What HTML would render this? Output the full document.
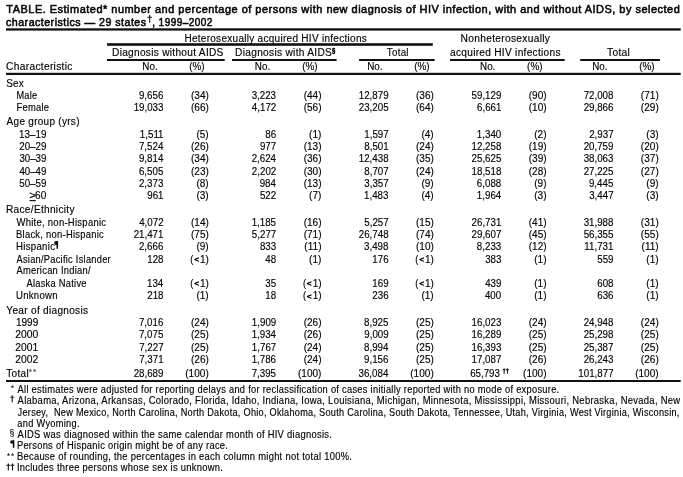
<!DOCTYPE html>
<html><head><meta charset="utf-8"><style>
html,body{margin:0;padding:0;background:#fff;width:683px;height:477px;overflow:hidden}
svg{display:block;will-change:transform}
text{font-family:"Liberation Sans",sans-serif;fill:#111;white-space:pre;stroke:#000;stroke-width:0.15px}
.b{font-weight:normal;stroke-width:0.55px}
rect,path{fill:#111}
</style></head><body>
<svg width="683" height="477" viewBox="0 0 683 477">
<rect x="6.0" y="28.3" width="674.70" height="2.30"/>
<rect x="107.0" y="43.2" width="325.80" height="2.60"/>
<rect x="107.0" y="59.0" width="117.70" height="2.00"/>
<rect x="232.0" y="59.0" width="104.60" height="2.00"/>
<rect x="359.1" y="59.0" width="75.60" height="2.00"/>
<rect x="450.0" y="59.0" width="114.70" height="2.00"/>
<rect x="580.2" y="59.0" width="79.80" height="2.00"/>
<rect x="6.0" y="72.8" width="674.70" height="2.20"/>
<rect x="6.0" y="380.0" width="674.70" height="2.00"/>
<rect x="29.6" y="200.0" width="6.20" height="1.20"/>
<path d="M54.2 243 A1.9 1.9 0 0 1 56.1 241.1 H58.1 V248.8 H56.5 V244.9 H56.1 A1.9 1.9 0 0 1 54.2 243 Z"/>
<path d="M10.1 442 A1.9 1.9 0 0 1 12 440.2 H14.4 V447.8 H12.8 V443.8 H12 A1.9 1.9 0 0 1 10.1 442 Z"/>
<path d="M149.15 15.10 H150.25 V16.73 H151.90 V17.63 H150.25 V22.80 H149.15 V17.63 H147.50 V16.73 H149.15 Z"/>
<path d="M11.65 395.30 H12.75 V396.71 H14.40 V397.61 H12.75 V402.20 H11.65 V397.61 H10.00 V396.71 H11.65 Z"/>
<path d="M503.65 368.30 H504.65 V369.34 H505.60 V370.24 H504.65 V373.80 H503.65 V370.24 H502.70 V369.34 H503.65 Z"/>
<path d="M506.95 368.30 H507.95 V369.34 H508.90 V370.24 H507.95 V373.80 H506.95 V370.24 H506.00 V369.34 H506.95 Z"/>
<path d="M7.75 463.40 H8.85 V464.87 H10.20 V465.77 H8.85 V470.50 H7.75 V465.77 H6.40 V464.87 H7.75 Z"/>
<path d="M11.95 463.40 H13.05 V464.87 H14.40 V465.77 H13.05 V470.50 H11.95 V465.77 H10.60 V464.87 H11.95 Z"/>
<polygon points="30.40,368.75 30.91,369.79 32.06,369.96 31.23,370.77 31.43,371.92 30.40,371.38 29.37,371.92 29.57,370.77 28.74,369.96 29.89,369.79" style="fill:#555"/>
<polygon points="34.55,368.75 35.06,369.79 36.21,369.96 35.38,370.77 35.58,371.92 34.55,371.38 33.52,371.92 33.72,370.77 32.89,369.96 34.04,369.79" style="fill:#555"/>
<polygon points="12.40,384.85 12.91,385.89 14.06,386.06 13.23,386.87 13.43,388.02 12.40,387.48 11.37,388.02 11.57,386.87 10.74,386.06 11.89,385.89" style="fill:#222"/>
<polygon points="8.50,452.85 9.01,453.89 10.16,454.06 9.33,454.87 9.53,456.02 8.50,455.48 7.47,456.02 7.67,454.87 6.84,454.06 7.99,453.89" style="fill:#222"/>
<polygon points="12.55,452.85 13.06,453.89 14.21,454.06 13.38,454.87 13.58,456.02 12.55,455.48 11.52,456.02 11.72,454.87 10.89,454.06 12.04,453.89" style="fill:#222"/>
<text x="6.30" y="13.00" transform="translate(6.30 0) scale(0.9816 1) translate(-6.30 0)" style="font-size:11.2px;letter-spacing:0.5px;fill:#111" class="b">TABLE. Estimated* number and percentage of persons with new diagnosis of HIV infection, with and without AIDS, by selected</text>
<text x="6.06" y="25.90" transform="translate(6.06 0) scale(0.9510 1) translate(-6.06 0)" style="font-size:11.2px;letter-spacing:0.5px;fill:#111" class="b">characteristics — 29 states</text>
<text x="152.15" y="25.90" transform="translate(152.15 0) scale(0.8962 1) translate(-152.15 0)" style="font-size:11.2px;letter-spacing:0.5px;fill:#111" class="b">, 1999–2002</text>
<text x="184.39" y="41.80" transform="translate(184.39 0) scale(0.9458 1) translate(-184.39 0)" style="font-size:10.6px;letter-spacing:0.3px;fill:#000">Heterosexually acquired HIV infections</text>
<text x="460.57" y="41.90" transform="translate(460.57 0) scale(0.9668 1) translate(-460.57 0)" style="font-size:10.6px;letter-spacing:0.3px;fill:#000">Nonheterosexually</text>
<text x="112.08" y="55.80" transform="translate(112.08 0) scale(0.9562 1) translate(-112.08 0)" style="font-size:10.6px;letter-spacing:0.3px;fill:#000">Diagnosis without AIDS</text>
<text x="235.08" y="55.90" transform="translate(235.08 0) scale(0.9618 1) translate(-235.08 0)" style="font-size:10.6px;letter-spacing:0.3px;fill:#000">Diagnosis with AIDS</text>
<text x="332.10" y="53.50" transform="translate(332.10 0) scale(0.8000 1) translate(-332.10 0)" style="font-size:7.6px;letter-spacing:0px;fill:#000" class="b">§</text>
<text x="386.77" y="55.80" transform="translate(386.77 0) scale(0.9231 1) translate(-386.77 0)" style="font-size:10.6px;letter-spacing:0.3px;fill:#000">Total</text>
<text x="450.02" y="55.80" transform="translate(450.02 0) scale(0.9569 1) translate(-450.02 0)" style="font-size:10.6px;letter-spacing:0.3px;fill:#000">acquired HIV infections</text>
<text x="606.96" y="55.80" transform="translate(606.96 0) scale(0.9714 1) translate(-606.96 0)" style="font-size:10.6px;letter-spacing:0.3px;fill:#000">Total</text>
<text x="6.12" y="69.70" transform="translate(6.12 0) scale(0.9647 1) translate(-6.12 0)" style="font-size:10.6px;letter-spacing:0.3px;fill:#000">Characteristic</text>
<text x="142.33" y="69.80" transform="translate(142.33 0) scale(0.9300 1) translate(-142.33 0)" style="font-size:10.6px;letter-spacing:0px;fill:#000">No.</text>
<text x="254.83" y="69.80" transform="translate(254.83 0) scale(0.9300 1) translate(-254.83 0)" style="font-size:10.6px;letter-spacing:0px;fill:#000">No.</text>
<text x="367.23" y="69.80" transform="translate(367.23 0) scale(0.9300 1) translate(-367.23 0)" style="font-size:10.6px;letter-spacing:0px;fill:#000">No.</text>
<text x="480.03" y="69.80" transform="translate(480.03 0) scale(0.9300 1) translate(-480.03 0)" style="font-size:10.6px;letter-spacing:0px;fill:#000">No.</text>
<text x="592.23" y="69.80" transform="translate(592.23 0) scale(0.9300 1) translate(-592.23 0)" style="font-size:10.6px;letter-spacing:0px;fill:#000">No.</text>
<text x="189.33" y="69.80" transform="translate(189.33 0) scale(0.9300 1) translate(-189.33 0)" style="font-size:10.6px;letter-spacing:0px;fill:#000">(%)</text>
<text x="302.23" y="69.80" transform="translate(302.23 0) scale(0.9300 1) translate(-302.23 0)" style="font-size:10.6px;letter-spacing:0px;fill:#000">(%)</text>
<text x="414.23" y="69.80" transform="translate(414.23 0) scale(0.9300 1) translate(-414.23 0)" style="font-size:10.6px;letter-spacing:0px;fill:#000">(%)</text>
<text x="527.13" y="69.80" transform="translate(527.13 0) scale(0.9300 1) translate(-527.13 0)" style="font-size:10.6px;letter-spacing:0px;fill:#000">(%)</text>
<text x="639.33" y="69.80" transform="translate(639.33 0) scale(0.9300 1) translate(-639.33 0)" style="font-size:10.6px;letter-spacing:0px;fill:#000">(%)</text>
<text x="6.13" y="86.80" transform="translate(6.13 0) scale(0.9370 1) translate(-6.13 0)" style="font-size:10.6px;letter-spacing:0.3px;fill:#000">Sex</text>
<text x="16.45" y="98.80" transform="translate(16.45 0) scale(0.8703 1) translate(-16.45 0)" style="font-size:10.6px;letter-spacing:0.3px;fill:#000">Male</text>
<text x="138.95" y="98.80" transform="translate(138.95 0) scale(0.9200 1) translate(-138.95 0)" style="font-size:10.6px;letter-spacing:0px;fill:#000">9,656</text>
<text x="190.96" y="98.80" transform="translate(190.96 0) scale(0.9500 1) translate(-190.96 0)" style="font-size:10.6px;letter-spacing:0px;fill:#000">(34)</text>
<text x="251.65" y="98.80" transform="translate(251.65 0) scale(0.9200 1) translate(-251.65 0)" style="font-size:10.6px;letter-spacing:0px;fill:#000">3,223</text>
<text x="303.66" y="98.80" transform="translate(303.66 0) scale(0.9500 1) translate(-303.66 0)" style="font-size:10.6px;letter-spacing:0px;fill:#000">(44)</text>
<text x="358.76" y="98.80" transform="translate(358.76 0) scale(0.9200 1) translate(-358.76 0)" style="font-size:10.6px;letter-spacing:0px;fill:#000">12,879</text>
<text x="415.96" y="98.80" transform="translate(415.96 0) scale(0.9500 1) translate(-415.96 0)" style="font-size:10.6px;letter-spacing:0px;fill:#000">(36)</text>
<text x="471.56" y="98.80" transform="translate(471.56 0) scale(0.9200 1) translate(-471.56 0)" style="font-size:10.6px;letter-spacing:0px;fill:#000">59,129</text>
<text x="528.76" y="98.80" transform="translate(528.76 0) scale(0.9500 1) translate(-528.76 0)" style="font-size:10.6px;letter-spacing:0px;fill:#000">(90)</text>
<text x="583.66" y="98.80" transform="translate(583.66 0) scale(0.9200 1) translate(-583.66 0)" style="font-size:10.6px;letter-spacing:0px;fill:#000">72,008</text>
<text x="640.86" y="98.80" transform="translate(640.86 0) scale(0.9500 1) translate(-640.86 0)" style="font-size:10.6px;letter-spacing:0px;fill:#000">(71)</text>
<text x="16.43" y="110.80" transform="translate(16.43 0) scale(0.8867 1) translate(-16.43 0)" style="font-size:10.6px;letter-spacing:0.3px;fill:#000">Female</text>
<text x="133.66" y="110.80" transform="translate(133.66 0) scale(0.9200 1) translate(-133.66 0)" style="font-size:10.6px;letter-spacing:0px;fill:#000">19,033</text>
<text x="190.96" y="110.80" transform="translate(190.96 0) scale(0.9500 1) translate(-190.96 0)" style="font-size:10.6px;letter-spacing:0px;fill:#000">(66)</text>
<text x="251.88" y="110.80" transform="translate(251.88 0) scale(0.9200 1) translate(-251.88 0)" style="font-size:10.6px;letter-spacing:0px;fill:#000">4,172</text>
<text x="303.66" y="110.80" transform="translate(303.66 0) scale(0.9500 1) translate(-303.66 0)" style="font-size:10.6px;letter-spacing:0px;fill:#000">(56)</text>
<text x="358.76" y="110.80" transform="translate(358.76 0) scale(0.9200 1) translate(-358.76 0)" style="font-size:10.6px;letter-spacing:0px;fill:#000">23,205</text>
<text x="415.96" y="110.80" transform="translate(415.96 0) scale(0.9500 1) translate(-415.96 0)" style="font-size:10.6px;letter-spacing:0px;fill:#000">(64)</text>
<text x="477.08" y="110.80" transform="translate(477.08 0) scale(0.9200 1) translate(-477.08 0)" style="font-size:10.6px;letter-spacing:0px;fill:#000">6,661</text>
<text x="528.76" y="110.80" transform="translate(528.76 0) scale(0.9500 1) translate(-528.76 0)" style="font-size:10.6px;letter-spacing:0px;fill:#000">(10)</text>
<text x="583.66" y="110.80" transform="translate(583.66 0) scale(0.9200 1) translate(-583.66 0)" style="font-size:10.6px;letter-spacing:0px;fill:#000">29,866</text>
<text x="640.86" y="110.80" transform="translate(640.86 0) scale(0.9500 1) translate(-640.86 0)" style="font-size:10.6px;letter-spacing:0px;fill:#000">(29)</text>
<text x="6.60" y="124.60" transform="translate(6.60 0) scale(0.9446 1) translate(-6.60 0)" style="font-size:10.6px;letter-spacing:0.3px;fill:#000">Age group (yrs)</text>
<text x="19.00" y="137.80" transform="translate(19.00 0) scale(0.9310 1) translate(-19.00 0)" style="font-size:10.6px;letter-spacing:0px;fill:#000">13–19</text>
<text x="139.87" y="137.80" transform="translate(139.87 0) scale(0.9200 1) translate(-139.87 0)" style="font-size:10.6px;letter-spacing:0px;fill:#000">1,511</text>
<text x="196.43" y="137.80" transform="translate(196.43 0) scale(0.9500 1) translate(-196.43 0)" style="font-size:10.6px;letter-spacing:0px;fill:#000">(5)</text>
<text x="265.22" y="137.80" transform="translate(265.22 0) scale(0.9200 1) translate(-265.22 0)" style="font-size:10.6px;letter-spacing:0px;fill:#000">86</text>
<text x="309.12" y="137.80" transform="translate(309.12 0) scale(0.9500 1) translate(-309.12 0)" style="font-size:10.6px;letter-spacing:0px;fill:#000">(1)</text>
<text x="364.28" y="137.80" transform="translate(364.28 0) scale(0.9200 1) translate(-364.28 0)" style="font-size:10.6px;letter-spacing:0px;fill:#000">1,597</text>
<text x="421.43" y="137.80" transform="translate(421.43 0) scale(0.9500 1) translate(-421.43 0)" style="font-size:10.6px;letter-spacing:0px;fill:#000">(4)</text>
<text x="476.85" y="137.80" transform="translate(476.85 0) scale(0.9200 1) translate(-476.85 0)" style="font-size:10.6px;letter-spacing:0px;fill:#000">1,340</text>
<text x="534.23" y="137.80" transform="translate(534.23 0) scale(0.9500 1) translate(-534.23 0)" style="font-size:10.6px;letter-spacing:0px;fill:#000">(2)</text>
<text x="589.18" y="137.80" transform="translate(589.18 0) scale(0.9200 1) translate(-589.18 0)" style="font-size:10.6px;letter-spacing:0px;fill:#000">2,937</text>
<text x="646.33" y="137.80" transform="translate(646.33 0) scale(0.9500 1) translate(-646.33 0)" style="font-size:10.6px;letter-spacing:0px;fill:#000">(3)</text>
<text x="19.24" y="149.80" transform="translate(19.24 0) scale(0.9228 1) translate(-19.24 0)" style="font-size:10.6px;letter-spacing:0px;fill:#000">20–29</text>
<text x="138.95" y="149.80" transform="translate(138.95 0) scale(0.9200 1) translate(-138.95 0)" style="font-size:10.6px;letter-spacing:0px;fill:#000">7,524</text>
<text x="190.96" y="149.80" transform="translate(190.96 0) scale(0.9500 1) translate(-190.96 0)" style="font-size:10.6px;letter-spacing:0px;fill:#000">(26)</text>
<text x="259.93" y="149.80" transform="translate(259.93 0) scale(0.9200 1) translate(-259.93 0)" style="font-size:10.6px;letter-spacing:0px;fill:#000">977</text>
<text x="303.66" y="149.80" transform="translate(303.66 0) scale(0.9500 1) translate(-303.66 0)" style="font-size:10.6px;letter-spacing:0px;fill:#000">(13)</text>
<text x="364.28" y="149.80" transform="translate(364.28 0) scale(0.9200 1) translate(-364.28 0)" style="font-size:10.6px;letter-spacing:0px;fill:#000">8,501</text>
<text x="415.96" y="149.80" transform="translate(415.96 0) scale(0.9500 1) translate(-415.96 0)" style="font-size:10.6px;letter-spacing:0px;fill:#000">(24)</text>
<text x="471.56" y="149.80" transform="translate(471.56 0) scale(0.9200 1) translate(-471.56 0)" style="font-size:10.6px;letter-spacing:0px;fill:#000">12,258</text>
<text x="528.76" y="149.80" transform="translate(528.76 0) scale(0.9500 1) translate(-528.76 0)" style="font-size:10.6px;letter-spacing:0px;fill:#000">(19)</text>
<text x="583.66" y="149.80" transform="translate(583.66 0) scale(0.9200 1) translate(-583.66 0)" style="font-size:10.6px;letter-spacing:0px;fill:#000">20,759</text>
<text x="640.86" y="149.80" transform="translate(640.86 0) scale(0.9500 1) translate(-640.86 0)" style="font-size:10.6px;letter-spacing:0px;fill:#000">(20)</text>
<text x="19.47" y="161.70" transform="translate(19.47 0) scale(0.9148 1) translate(-19.47 0)" style="font-size:10.6px;letter-spacing:0px;fill:#000">30–39</text>
<text x="138.95" y="161.70" transform="translate(138.95 0) scale(0.9200 1) translate(-138.95 0)" style="font-size:10.6px;letter-spacing:0px;fill:#000">9,814</text>
<text x="190.96" y="161.70" transform="translate(190.96 0) scale(0.9500 1) translate(-190.96 0)" style="font-size:10.6px;letter-spacing:0px;fill:#000">(34)</text>
<text x="251.65" y="161.70" transform="translate(251.65 0) scale(0.9200 1) translate(-251.65 0)" style="font-size:10.6px;letter-spacing:0px;fill:#000">2,624</text>
<text x="303.66" y="161.70" transform="translate(303.66 0) scale(0.9500 1) translate(-303.66 0)" style="font-size:10.6px;letter-spacing:0px;fill:#000">(36)</text>
<text x="358.76" y="161.70" transform="translate(358.76 0) scale(0.9200 1) translate(-358.76 0)" style="font-size:10.6px;letter-spacing:0px;fill:#000">12,438</text>
<text x="415.96" y="161.70" transform="translate(415.96 0) scale(0.9500 1) translate(-415.96 0)" style="font-size:10.6px;letter-spacing:0px;fill:#000">(35)</text>
<text x="471.56" y="161.70" transform="translate(471.56 0) scale(0.9200 1) translate(-471.56 0)" style="font-size:10.6px;letter-spacing:0px;fill:#000">25,625</text>
<text x="528.76" y="161.70" transform="translate(528.76 0) scale(0.9500 1) translate(-528.76 0)" style="font-size:10.6px;letter-spacing:0px;fill:#000">(39)</text>
<text x="583.66" y="161.70" transform="translate(583.66 0) scale(0.9200 1) translate(-583.66 0)" style="font-size:10.6px;letter-spacing:0px;fill:#000">38,063</text>
<text x="640.86" y="161.70" transform="translate(640.86 0) scale(0.9500 1) translate(-640.86 0)" style="font-size:10.6px;letter-spacing:0px;fill:#000">(37)</text>
<text x="19.47" y="174.70" transform="translate(19.47 0) scale(0.9148 1) translate(-19.47 0)" style="font-size:10.6px;letter-spacing:0px;fill:#000">40–49</text>
<text x="138.95" y="174.70" transform="translate(138.95 0) scale(0.9200 1) translate(-138.95 0)" style="font-size:10.6px;letter-spacing:0px;fill:#000">6,505</text>
<text x="190.96" y="174.70" transform="translate(190.96 0) scale(0.9500 1) translate(-190.96 0)" style="font-size:10.6px;letter-spacing:0px;fill:#000">(23)</text>
<text x="251.88" y="174.70" transform="translate(251.88 0) scale(0.9200 1) translate(-251.88 0)" style="font-size:10.6px;letter-spacing:0px;fill:#000">2,202</text>
<text x="303.66" y="174.70" transform="translate(303.66 0) scale(0.9500 1) translate(-303.66 0)" style="font-size:10.6px;letter-spacing:0px;fill:#000">(30)</text>
<text x="364.28" y="174.70" transform="translate(364.28 0) scale(0.9200 1) translate(-364.28 0)" style="font-size:10.6px;letter-spacing:0px;fill:#000">8,707</text>
<text x="415.96" y="174.70" transform="translate(415.96 0) scale(0.9500 1) translate(-415.96 0)" style="font-size:10.6px;letter-spacing:0px;fill:#000">(24)</text>
<text x="471.56" y="174.70" transform="translate(471.56 0) scale(0.9200 1) translate(-471.56 0)" style="font-size:10.6px;letter-spacing:0px;fill:#000">18,518</text>
<text x="528.76" y="174.70" transform="translate(528.76 0) scale(0.9500 1) translate(-528.76 0)" style="font-size:10.6px;letter-spacing:0px;fill:#000">(28)</text>
<text x="583.66" y="174.70" transform="translate(583.66 0) scale(0.9200 1) translate(-583.66 0)" style="font-size:10.6px;letter-spacing:0px;fill:#000">27,225</text>
<text x="640.86" y="174.70" transform="translate(640.86 0) scale(0.9500 1) translate(-640.86 0)" style="font-size:10.6px;letter-spacing:0px;fill:#000">(27)</text>
<text x="19.24" y="187.00" transform="translate(19.24 0) scale(0.9228 1) translate(-19.24 0)" style="font-size:10.6px;letter-spacing:0px;fill:#000">50–59</text>
<text x="138.95" y="187.00" transform="translate(138.95 0) scale(0.9200 1) translate(-138.95 0)" style="font-size:10.6px;letter-spacing:0px;fill:#000">2,373</text>
<text x="196.43" y="187.00" transform="translate(196.43 0) scale(0.9500 1) translate(-196.43 0)" style="font-size:10.6px;letter-spacing:0px;fill:#000">(8)</text>
<text x="259.70" y="187.00" transform="translate(259.70 0) scale(0.9200 1) translate(-259.70 0)" style="font-size:10.6px;letter-spacing:0px;fill:#000">984</text>
<text x="303.66" y="187.00" transform="translate(303.66 0) scale(0.9500 1) translate(-303.66 0)" style="font-size:10.6px;letter-spacing:0px;fill:#000">(13)</text>
<text x="364.28" y="187.00" transform="translate(364.28 0) scale(0.9200 1) translate(-364.28 0)" style="font-size:10.6px;letter-spacing:0px;fill:#000">3,357</text>
<text x="421.43" y="187.00" transform="translate(421.43 0) scale(0.9500 1) translate(-421.43 0)" style="font-size:10.6px;letter-spacing:0px;fill:#000">(9)</text>
<text x="476.85" y="187.00" transform="translate(476.85 0) scale(0.9200 1) translate(-476.85 0)" style="font-size:10.6px;letter-spacing:0px;fill:#000">6,088</text>
<text x="534.23" y="187.00" transform="translate(534.23 0) scale(0.9500 1) translate(-534.23 0)" style="font-size:10.6px;letter-spacing:0px;fill:#000">(9)</text>
<text x="588.95" y="187.00" transform="translate(588.95 0) scale(0.9200 1) translate(-588.95 0)" style="font-size:10.6px;letter-spacing:0px;fill:#000">9,445</text>
<text x="646.33" y="187.00" transform="translate(646.33 0) scale(0.9500 1) translate(-646.33 0)" style="font-size:10.6px;letter-spacing:0px;fill:#000">(9)</text>
<text x="35.08" y="198.90" transform="translate(35.08 0) scale(0.9500 1) translate(-35.08 0)" style="font-size:10.6px;letter-spacing:0px;fill:#000">60</text>
<text x="29.26" y="198.90" transform="translate(29.26 0) scale(1.0857 1) translate(-29.26 0)" style="font-size:10.6px;letter-spacing:0px;fill:#000">&gt;</text>
<text x="147.23" y="198.90" transform="translate(147.23 0) scale(0.9200 1) translate(-147.23 0)" style="font-size:10.6px;letter-spacing:0px;fill:#000">961</text>
<text x="196.43" y="198.90" transform="translate(196.43 0) scale(0.9500 1) translate(-196.43 0)" style="font-size:10.6px;letter-spacing:0px;fill:#000">(3)</text>
<text x="259.93" y="198.90" transform="translate(259.93 0) scale(0.9200 1) translate(-259.93 0)" style="font-size:10.6px;letter-spacing:0px;fill:#000">522</text>
<text x="309.12" y="198.90" transform="translate(309.12 0) scale(0.9500 1) translate(-309.12 0)" style="font-size:10.6px;letter-spacing:0px;fill:#000">(7)</text>
<text x="364.05" y="198.90" transform="translate(364.05 0) scale(0.9200 1) translate(-364.05 0)" style="font-size:10.6px;letter-spacing:0px;fill:#000">1,483</text>
<text x="421.43" y="198.90" transform="translate(421.43 0) scale(0.9500 1) translate(-421.43 0)" style="font-size:10.6px;letter-spacing:0px;fill:#000">(4)</text>
<text x="476.85" y="198.90" transform="translate(476.85 0) scale(0.9200 1) translate(-476.85 0)" style="font-size:10.6px;letter-spacing:0px;fill:#000">1,964</text>
<text x="534.23" y="198.90" transform="translate(534.23 0) scale(0.9500 1) translate(-534.23 0)" style="font-size:10.6px;letter-spacing:0px;fill:#000">(3)</text>
<text x="589.18" y="198.90" transform="translate(589.18 0) scale(0.9200 1) translate(-589.18 0)" style="font-size:10.6px;letter-spacing:0px;fill:#000">3,447</text>
<text x="646.33" y="198.90" transform="translate(646.33 0) scale(0.9500 1) translate(-646.33 0)" style="font-size:10.6px;letter-spacing:0px;fill:#000">(3)</text>
<text x="5.98" y="212.70" transform="translate(5.98 0) scale(0.9577 1) translate(-5.98 0)" style="font-size:10.6px;letter-spacing:0.3px;fill:#000">Race/Ethnicity</text>
<text x="16.50" y="225.60" transform="translate(16.50 0) scale(0.8940 1) translate(-16.50 0)" style="font-size:10.6px;letter-spacing:0.3px;fill:#000">White, non-Hispanic</text>
<text x="139.18" y="225.60" transform="translate(139.18 0) scale(0.9200 1) translate(-139.18 0)" style="font-size:10.6px;letter-spacing:0px;fill:#000">4,072</text>
<text x="190.96" y="225.60" transform="translate(190.96 0) scale(0.9500 1) translate(-190.96 0)" style="font-size:10.6px;letter-spacing:0px;fill:#000">(14)</text>
<text x="251.65" y="225.60" transform="translate(251.65 0) scale(0.9200 1) translate(-251.65 0)" style="font-size:10.6px;letter-spacing:0px;fill:#000">1,185</text>
<text x="303.66" y="225.60" transform="translate(303.66 0) scale(0.9500 1) translate(-303.66 0)" style="font-size:10.6px;letter-spacing:0px;fill:#000">(16)</text>
<text x="364.28" y="225.60" transform="translate(364.28 0) scale(0.9200 1) translate(-364.28 0)" style="font-size:10.6px;letter-spacing:0px;fill:#000">5,257</text>
<text x="415.96" y="225.60" transform="translate(415.96 0) scale(0.9500 1) translate(-415.96 0)" style="font-size:10.6px;letter-spacing:0px;fill:#000">(15)</text>
<text x="471.56" y="225.60" transform="translate(471.56 0) scale(0.9200 1) translate(-471.56 0)" style="font-size:10.6px;letter-spacing:0px;fill:#000">26,731</text>
<text x="528.76" y="225.60" transform="translate(528.76 0) scale(0.9500 1) translate(-528.76 0)" style="font-size:10.6px;letter-spacing:0px;fill:#000">(41)</text>
<text x="583.66" y="225.60" transform="translate(583.66 0) scale(0.9200 1) translate(-583.66 0)" style="font-size:10.6px;letter-spacing:0px;fill:#000">31,988</text>
<text x="640.86" y="225.60" transform="translate(640.86 0) scale(0.9500 1) translate(-640.86 0)" style="font-size:10.6px;letter-spacing:0px;fill:#000">(31)</text>
<text x="16.03" y="237.80" transform="translate(16.03 0) scale(0.8867 1) translate(-16.03 0)" style="font-size:10.6px;letter-spacing:0.3px;fill:#000">Black, non-Hispanic</text>
<text x="133.66" y="237.80" transform="translate(133.66 0) scale(0.9200 1) translate(-133.66 0)" style="font-size:10.6px;letter-spacing:0px;fill:#000">21,471</text>
<text x="190.96" y="237.80" transform="translate(190.96 0) scale(0.9500 1) translate(-190.96 0)" style="font-size:10.6px;letter-spacing:0px;fill:#000">(75)</text>
<text x="251.88" y="237.80" transform="translate(251.88 0) scale(0.9200 1) translate(-251.88 0)" style="font-size:10.6px;letter-spacing:0px;fill:#000">5,277</text>
<text x="303.66" y="237.80" transform="translate(303.66 0) scale(0.9500 1) translate(-303.66 0)" style="font-size:10.6px;letter-spacing:0px;fill:#000">(71)</text>
<text x="358.76" y="237.80" transform="translate(358.76 0) scale(0.9200 1) translate(-358.76 0)" style="font-size:10.6px;letter-spacing:0px;fill:#000">26,748</text>
<text x="415.96" y="237.80" transform="translate(415.96 0) scale(0.9500 1) translate(-415.96 0)" style="font-size:10.6px;letter-spacing:0px;fill:#000">(74)</text>
<text x="471.56" y="237.80" transform="translate(471.56 0) scale(0.9200 1) translate(-471.56 0)" style="font-size:10.6px;letter-spacing:0px;fill:#000">29,607</text>
<text x="528.76" y="237.80" transform="translate(528.76 0) scale(0.9500 1) translate(-528.76 0)" style="font-size:10.6px;letter-spacing:0px;fill:#000">(45)</text>
<text x="583.66" y="237.80" transform="translate(583.66 0) scale(0.9200 1) translate(-583.66 0)" style="font-size:10.6px;letter-spacing:0px;fill:#000">56,355</text>
<text x="640.86" y="237.80" transform="translate(640.86 0) scale(0.9500 1) translate(-640.86 0)" style="font-size:10.6px;letter-spacing:0px;fill:#000">(55)</text>
<text x="16.02" y="249.80" transform="translate(16.02 0) scale(0.9126 1) translate(-16.02 0)" style="font-size:10.6px;letter-spacing:0.3px;fill:#000">Hispanic</text>
<text x="138.95" y="249.80" transform="translate(138.95 0) scale(0.9200 1) translate(-138.95 0)" style="font-size:10.6px;letter-spacing:0px;fill:#000">2,666</text>
<text x="196.43" y="249.80" transform="translate(196.43 0) scale(0.9500 1) translate(-196.43 0)" style="font-size:10.6px;letter-spacing:0px;fill:#000">(9)</text>
<text x="259.93" y="249.80" transform="translate(259.93 0) scale(0.9200 1) translate(-259.93 0)" style="font-size:10.6px;letter-spacing:0px;fill:#000">833</text>
<text x="304.38" y="249.80" transform="translate(304.38 0) scale(0.9500 1) translate(-304.38 0)" style="font-size:10.6px;letter-spacing:0px;fill:#000">(11)</text>
<text x="364.05" y="249.80" transform="translate(364.05 0) scale(0.9200 1) translate(-364.05 0)" style="font-size:10.6px;letter-spacing:0px;fill:#000">3,498</text>
<text x="415.96" y="249.80" transform="translate(415.96 0) scale(0.9500 1) translate(-415.96 0)" style="font-size:10.6px;letter-spacing:0px;fill:#000">(10)</text>
<text x="476.85" y="249.80" transform="translate(476.85 0) scale(0.9200 1) translate(-476.85 0)" style="font-size:10.6px;letter-spacing:0px;fill:#000">8,233</text>
<text x="528.76" y="249.80" transform="translate(528.76 0) scale(0.9500 1) translate(-528.76 0)" style="font-size:10.6px;letter-spacing:0px;fill:#000">(12)</text>
<text x="584.35" y="249.80" transform="translate(584.35 0) scale(0.9200 1) translate(-584.35 0)" style="font-size:10.6px;letter-spacing:0px;fill:#000">11,731</text>
<text x="641.58" y="249.80" transform="translate(641.58 0) scale(0.9500 1) translate(-641.58 0)" style="font-size:10.6px;letter-spacing:0px;fill:#000">(11)</text>
<text x="16.50" y="262.70" transform="translate(16.50 0) scale(0.8763 1) translate(-16.50 0)" style="font-size:10.6px;letter-spacing:0.3px;fill:#000">Asian/Pacific Islander</text>
<text x="147.23" y="262.70" transform="translate(147.23 0) scale(0.9200 1) translate(-147.23 0)" style="font-size:10.6px;letter-spacing:0px;fill:#000">128</text>
<text x="199.99" y="262.70" transform="translate(199.99 0) scale(0.9500 1) translate(-199.99 0)" style="font-size:10.6px;letter-spacing:0px;fill:#000">1)</text>
<text x="190.27" y="262.70" transform="translate(190.27 0) scale(0.8667 1) translate(-190.27 0)" style="font-size:10.6px;letter-spacing:0px;fill:#000">(</text>
<text x="194.14" y="261.75" transform="translate(194.14 0) scale(1.0353 1) translate(-194.14 0)" style="font-size:8.0px;letter-spacing:0px;fill:#000" class="b">&lt;</text>
<text x="265.22" y="262.70" transform="translate(265.22 0) scale(0.9200 1) translate(-265.22 0)" style="font-size:10.6px;letter-spacing:0px;fill:#000">48</text>
<text x="309.12" y="262.70" transform="translate(309.12 0) scale(0.9500 1) translate(-309.12 0)" style="font-size:10.6px;letter-spacing:0px;fill:#000">(1)</text>
<text x="372.33" y="262.70" transform="translate(372.33 0) scale(0.9200 1) translate(-372.33 0)" style="font-size:10.6px;letter-spacing:0px;fill:#000">176</text>
<text x="424.99" y="262.70" transform="translate(424.99 0) scale(0.9500 1) translate(-424.99 0)" style="font-size:10.6px;letter-spacing:0px;fill:#000">1)</text>
<text x="415.27" y="262.70" transform="translate(415.27 0) scale(0.8667 1) translate(-415.27 0)" style="font-size:10.6px;letter-spacing:0px;fill:#000">(</text>
<text x="419.14" y="261.75" transform="translate(419.14 0) scale(1.0353 1) translate(-419.14 0)" style="font-size:8.0px;letter-spacing:0px;fill:#000" class="b">&lt;</text>
<text x="485.13" y="262.70" transform="translate(485.13 0) scale(0.9200 1) translate(-485.13 0)" style="font-size:10.6px;letter-spacing:0px;fill:#000">383</text>
<text x="534.23" y="262.70" transform="translate(534.23 0) scale(0.9500 1) translate(-534.23 0)" style="font-size:10.6px;letter-spacing:0px;fill:#000">(1)</text>
<text x="597.23" y="262.70" transform="translate(597.23 0) scale(0.9200 1) translate(-597.23 0)" style="font-size:10.6px;letter-spacing:0px;fill:#000">559</text>
<text x="646.33" y="262.70" transform="translate(646.33 0) scale(0.9500 1) translate(-646.33 0)" style="font-size:10.6px;letter-spacing:0px;fill:#000">(1)</text>
<text x="16.50" y="274.40" transform="translate(16.50 0) scale(0.8821 1) translate(-16.50 0)" style="font-size:10.6px;letter-spacing:0.3px;fill:#000">American Indian/</text>
<text x="26.40" y="287.00" transform="translate(26.40 0) scale(0.8809 1) translate(-26.40 0)" style="font-size:10.6px;letter-spacing:0.3px;fill:#000">Alaska Native</text>
<text x="147.00" y="287.00" transform="translate(147.00 0) scale(0.9200 1) translate(-147.00 0)" style="font-size:10.6px;letter-spacing:0px;fill:#000">134</text>
<text x="199.99" y="287.00" transform="translate(199.99 0) scale(0.9500 1) translate(-199.99 0)" style="font-size:10.6px;letter-spacing:0px;fill:#000">1)</text>
<text x="190.27" y="287.00" transform="translate(190.27 0) scale(0.8667 1) translate(-190.27 0)" style="font-size:10.6px;letter-spacing:0px;fill:#000">(</text>
<text x="194.14" y="286.05" transform="translate(194.14 0) scale(1.0353 1) translate(-194.14 0)" style="font-size:8.0px;letter-spacing:0px;fill:#000" class="b">&lt;</text>
<text x="265.22" y="287.00" transform="translate(265.22 0) scale(0.9200 1) translate(-265.22 0)" style="font-size:10.6px;letter-spacing:0px;fill:#000">35</text>
<text x="312.69" y="287.00" transform="translate(312.69 0) scale(0.9500 1) translate(-312.69 0)" style="font-size:10.6px;letter-spacing:0px;fill:#000">1)</text>
<text x="302.97" y="287.00" transform="translate(302.97 0) scale(0.8667 1) translate(-302.97 0)" style="font-size:10.6px;letter-spacing:0px;fill:#000">(</text>
<text x="306.84" y="286.05" transform="translate(306.84 0) scale(1.0353 1) translate(-306.84 0)" style="font-size:8.0px;letter-spacing:0px;fill:#000" class="b">&lt;</text>
<text x="372.33" y="287.00" transform="translate(372.33 0) scale(0.9200 1) translate(-372.33 0)" style="font-size:10.6px;letter-spacing:0px;fill:#000">169</text>
<text x="424.99" y="287.00" transform="translate(424.99 0) scale(0.9500 1) translate(-424.99 0)" style="font-size:10.6px;letter-spacing:0px;fill:#000">1)</text>
<text x="415.27" y="287.00" transform="translate(415.27 0) scale(0.8667 1) translate(-415.27 0)" style="font-size:10.6px;letter-spacing:0px;fill:#000">(</text>
<text x="419.14" y="286.05" transform="translate(419.14 0) scale(1.0353 1) translate(-419.14 0)" style="font-size:8.0px;letter-spacing:0px;fill:#000" class="b">&lt;</text>
<text x="485.13" y="287.00" transform="translate(485.13 0) scale(0.9200 1) translate(-485.13 0)" style="font-size:10.6px;letter-spacing:0px;fill:#000">439</text>
<text x="534.23" y="287.00" transform="translate(534.23 0) scale(0.9500 1) translate(-534.23 0)" style="font-size:10.6px;letter-spacing:0px;fill:#000">(1)</text>
<text x="597.23" y="287.00" transform="translate(597.23 0) scale(0.9200 1) translate(-597.23 0)" style="font-size:10.6px;letter-spacing:0px;fill:#000">608</text>
<text x="646.33" y="287.00" transform="translate(646.33 0) scale(0.9500 1) translate(-646.33 0)" style="font-size:10.6px;letter-spacing:0px;fill:#000">(1)</text>
<text x="16.02" y="299.50" transform="translate(16.02 0) scale(0.9028 1) translate(-16.02 0)" style="font-size:10.6px;letter-spacing:0.3px;fill:#000">Unknown</text>
<text x="147.23" y="299.50" transform="translate(147.23 0) scale(0.9200 1) translate(-147.23 0)" style="font-size:10.6px;letter-spacing:0px;fill:#000">218</text>
<text x="196.43" y="299.50" transform="translate(196.43 0) scale(0.9500 1) translate(-196.43 0)" style="font-size:10.6px;letter-spacing:0px;fill:#000">(1)</text>
<text x="265.22" y="299.50" transform="translate(265.22 0) scale(0.9200 1) translate(-265.22 0)" style="font-size:10.6px;letter-spacing:0px;fill:#000">18</text>
<text x="312.69" y="299.50" transform="translate(312.69 0) scale(0.9500 1) translate(-312.69 0)" style="font-size:10.6px;letter-spacing:0px;fill:#000">1)</text>
<text x="302.97" y="299.50" transform="translate(302.97 0) scale(0.8667 1) translate(-302.97 0)" style="font-size:10.6px;letter-spacing:0px;fill:#000">(</text>
<text x="306.84" y="298.55" transform="translate(306.84 0) scale(1.0353 1) translate(-306.84 0)" style="font-size:8.0px;letter-spacing:0px;fill:#000" class="b">&lt;</text>
<text x="372.33" y="299.50" transform="translate(372.33 0) scale(0.9200 1) translate(-372.33 0)" style="font-size:10.6px;letter-spacing:0px;fill:#000">236</text>
<text x="421.43" y="299.50" transform="translate(421.43 0) scale(0.9500 1) translate(-421.43 0)" style="font-size:10.6px;letter-spacing:0px;fill:#000">(1)</text>
<text x="484.90" y="299.50" transform="translate(484.90 0) scale(0.9200 1) translate(-484.90 0)" style="font-size:10.6px;letter-spacing:0px;fill:#000">400</text>
<text x="534.23" y="299.50" transform="translate(534.23 0) scale(0.9500 1) translate(-534.23 0)" style="font-size:10.6px;letter-spacing:0px;fill:#000">(1)</text>
<text x="597.23" y="299.50" transform="translate(597.23 0) scale(0.9200 1) translate(-597.23 0)" style="font-size:10.6px;letter-spacing:0px;fill:#000">636</text>
<text x="646.33" y="299.50" transform="translate(646.33 0) scale(0.9500 1) translate(-646.33 0)" style="font-size:10.6px;letter-spacing:0px;fill:#000">(1)</text>
<text x="6.36" y="313.70" transform="translate(6.36 0) scale(0.9537 1) translate(-6.36 0)" style="font-size:10.6px;letter-spacing:0.3px;fill:#000">Year of diagnosis</text>
<text x="15.89" y="325.60" transform="translate(15.89 0) scale(0.9511 1) translate(-15.89 0)" style="font-size:10.6px;letter-spacing:0px;fill:#000">1999</text>
<text x="138.95" y="325.60" transform="translate(138.95 0) scale(0.9200 1) translate(-138.95 0)" style="font-size:10.6px;letter-spacing:0px;fill:#000">7,016</text>
<text x="190.96" y="325.60" transform="translate(190.96 0) scale(0.9500 1) translate(-190.96 0)" style="font-size:10.6px;letter-spacing:0px;fill:#000">(24)</text>
<text x="251.88" y="325.60" transform="translate(251.88 0) scale(0.9200 1) translate(-251.88 0)" style="font-size:10.6px;letter-spacing:0px;fill:#000">1,909</text>
<text x="303.66" y="325.60" transform="translate(303.66 0) scale(0.9500 1) translate(-303.66 0)" style="font-size:10.6px;letter-spacing:0px;fill:#000">(26)</text>
<text x="364.05" y="325.60" transform="translate(364.05 0) scale(0.9200 1) translate(-364.05 0)" style="font-size:10.6px;letter-spacing:0px;fill:#000">8,925</text>
<text x="415.96" y="325.60" transform="translate(415.96 0) scale(0.9500 1) translate(-415.96 0)" style="font-size:10.6px;letter-spacing:0px;fill:#000">(25)</text>
<text x="471.56" y="325.60" transform="translate(471.56 0) scale(0.9200 1) translate(-471.56 0)" style="font-size:10.6px;letter-spacing:0px;fill:#000">16,023</text>
<text x="528.76" y="325.60" transform="translate(528.76 0) scale(0.9500 1) translate(-528.76 0)" style="font-size:10.6px;letter-spacing:0px;fill:#000">(24)</text>
<text x="583.66" y="325.60" transform="translate(583.66 0) scale(0.9200 1) translate(-583.66 0)" style="font-size:10.6px;letter-spacing:0px;fill:#000">24,948</text>
<text x="640.86" y="325.60" transform="translate(640.86 0) scale(0.9500 1) translate(-640.86 0)" style="font-size:10.6px;letter-spacing:0px;fill:#000">(24)</text>
<text x="15.31" y="337.80" transform="translate(15.31 0) scale(0.9758 1) translate(-15.31 0)" style="font-size:10.6px;letter-spacing:0px;fill:#000">2000</text>
<text x="138.95" y="337.80" transform="translate(138.95 0) scale(0.9200 1) translate(-138.95 0)" style="font-size:10.6px;letter-spacing:0px;fill:#000">7,075</text>
<text x="190.96" y="337.80" transform="translate(190.96 0) scale(0.9500 1) translate(-190.96 0)" style="font-size:10.6px;letter-spacing:0px;fill:#000">(25)</text>
<text x="251.65" y="337.80" transform="translate(251.65 0) scale(0.9200 1) translate(-251.65 0)" style="font-size:10.6px;letter-spacing:0px;fill:#000">1,934</text>
<text x="303.66" y="337.80" transform="translate(303.66 0) scale(0.9500 1) translate(-303.66 0)" style="font-size:10.6px;letter-spacing:0px;fill:#000">(26)</text>
<text x="364.28" y="337.80" transform="translate(364.28 0) scale(0.9200 1) translate(-364.28 0)" style="font-size:10.6px;letter-spacing:0px;fill:#000">9,009</text>
<text x="415.96" y="337.80" transform="translate(415.96 0) scale(0.9500 1) translate(-415.96 0)" style="font-size:10.6px;letter-spacing:0px;fill:#000">(25)</text>
<text x="471.56" y="337.80" transform="translate(471.56 0) scale(0.9200 1) translate(-471.56 0)" style="font-size:10.6px;letter-spacing:0px;fill:#000">16,289</text>
<text x="528.76" y="337.80" transform="translate(528.76 0) scale(0.9500 1) translate(-528.76 0)" style="font-size:10.6px;letter-spacing:0px;fill:#000">(25)</text>
<text x="583.66" y="337.80" transform="translate(583.66 0) scale(0.9200 1) translate(-583.66 0)" style="font-size:10.6px;letter-spacing:0px;fill:#000">25,298</text>
<text x="640.86" y="337.80" transform="translate(640.86 0) scale(0.9500 1) translate(-640.86 0)" style="font-size:10.6px;letter-spacing:0px;fill:#000">(25)</text>
<text x="15.31" y="350.80" transform="translate(15.31 0) scale(0.9758 1) translate(-15.31 0)" style="font-size:10.6px;letter-spacing:0px;fill:#000">2001</text>
<text x="139.18" y="350.80" transform="translate(139.18 0) scale(0.9200 1) translate(-139.18 0)" style="font-size:10.6px;letter-spacing:0px;fill:#000">7,227</text>
<text x="190.96" y="350.80" transform="translate(190.96 0) scale(0.9500 1) translate(-190.96 0)" style="font-size:10.6px;letter-spacing:0px;fill:#000">(25)</text>
<text x="251.88" y="350.80" transform="translate(251.88 0) scale(0.9200 1) translate(-251.88 0)" style="font-size:10.6px;letter-spacing:0px;fill:#000">1,767</text>
<text x="303.66" y="350.80" transform="translate(303.66 0) scale(0.9500 1) translate(-303.66 0)" style="font-size:10.6px;letter-spacing:0px;fill:#000">(24)</text>
<text x="364.05" y="350.80" transform="translate(364.05 0) scale(0.9200 1) translate(-364.05 0)" style="font-size:10.6px;letter-spacing:0px;fill:#000">8,994</text>
<text x="415.96" y="350.80" transform="translate(415.96 0) scale(0.9500 1) translate(-415.96 0)" style="font-size:10.6px;letter-spacing:0px;fill:#000">(25)</text>
<text x="471.56" y="350.80" transform="translate(471.56 0) scale(0.9200 1) translate(-471.56 0)" style="font-size:10.6px;letter-spacing:0px;fill:#000">16,393</text>
<text x="528.76" y="350.80" transform="translate(528.76 0) scale(0.9500 1) translate(-528.76 0)" style="font-size:10.6px;letter-spacing:0px;fill:#000">(25)</text>
<text x="583.66" y="350.80" transform="translate(583.66 0) scale(0.9200 1) translate(-583.66 0)" style="font-size:10.6px;letter-spacing:0px;fill:#000">25,387</text>
<text x="640.86" y="350.80" transform="translate(640.86 0) scale(0.9500 1) translate(-640.86 0)" style="font-size:10.6px;letter-spacing:0px;fill:#000">(25)</text>
<text x="15.31" y="362.70" transform="translate(15.31 0) scale(0.9758 1) translate(-15.31 0)" style="font-size:10.6px;letter-spacing:0px;fill:#000">2002</text>
<text x="139.18" y="362.70" transform="translate(139.18 0) scale(0.9200 1) translate(-139.18 0)" style="font-size:10.6px;letter-spacing:0px;fill:#000">7,371</text>
<text x="190.96" y="362.70" transform="translate(190.96 0) scale(0.9500 1) translate(-190.96 0)" style="font-size:10.6px;letter-spacing:0px;fill:#000">(26)</text>
<text x="251.65" y="362.70" transform="translate(251.65 0) scale(0.9200 1) translate(-251.65 0)" style="font-size:10.6px;letter-spacing:0px;fill:#000">1,786</text>
<text x="303.66" y="362.70" transform="translate(303.66 0) scale(0.9500 1) translate(-303.66 0)" style="font-size:10.6px;letter-spacing:0px;fill:#000">(24)</text>
<text x="364.05" y="362.70" transform="translate(364.05 0) scale(0.9200 1) translate(-364.05 0)" style="font-size:10.6px;letter-spacing:0px;fill:#000">9,156</text>
<text x="415.96" y="362.70" transform="translate(415.96 0) scale(0.9500 1) translate(-415.96 0)" style="font-size:10.6px;letter-spacing:0px;fill:#000">(25)</text>
<text x="471.56" y="362.70" transform="translate(471.56 0) scale(0.9200 1) translate(-471.56 0)" style="font-size:10.6px;letter-spacing:0px;fill:#000">17,087</text>
<text x="528.76" y="362.70" transform="translate(528.76 0) scale(0.9500 1) translate(-528.76 0)" style="font-size:10.6px;letter-spacing:0px;fill:#000">(26)</text>
<text x="583.66" y="362.70" transform="translate(583.66 0) scale(0.9200 1) translate(-583.66 0)" style="font-size:10.6px;letter-spacing:0px;fill:#000">26,243</text>
<text x="640.86" y="362.70" transform="translate(640.86 0) scale(0.9500 1) translate(-640.86 0)" style="font-size:10.6px;letter-spacing:0px;fill:#000">(26)</text>
<text x="6.26" y="376.60" transform="translate(6.26 0) scale(0.9495 1) translate(-6.26 0)" style="font-size:10.6px;letter-spacing:0.3px;fill:#000">Total</text>
<text x="133.66" y="376.60" transform="translate(133.66 0) scale(0.9200 1) translate(-133.66 0)" style="font-size:10.6px;letter-spacing:0px;fill:#000">28,689</text>
<text x="185.26" y="376.60" transform="translate(185.26 0) scale(0.9500 1) translate(-185.26 0)" style="font-size:10.6px;letter-spacing:0px;fill:#000">(100)</text>
<text x="251.65" y="376.60" transform="translate(251.65 0) scale(0.9200 1) translate(-251.65 0)" style="font-size:10.6px;letter-spacing:0px;fill:#000">7,395</text>
<text x="297.96" y="376.60" transform="translate(297.96 0) scale(0.9500 1) translate(-297.96 0)" style="font-size:10.6px;letter-spacing:0px;fill:#000">(100)</text>
<text x="358.53" y="376.60" transform="translate(358.53 0) scale(0.9200 1) translate(-358.53 0)" style="font-size:10.6px;letter-spacing:0px;fill:#000">36,084</text>
<text x="410.26" y="376.60" transform="translate(410.26 0) scale(0.9500 1) translate(-410.26 0)" style="font-size:10.6px;letter-spacing:0px;fill:#000">(100)</text>
<text x="470.16" y="376.60" transform="translate(470.16 0) scale(0.9200 1) translate(-470.16 0)" style="font-size:10.6px;letter-spacing:0px;fill:#000">65,793</text>
<text x="523.06" y="376.60" transform="translate(523.06 0) scale(0.9500 1) translate(-523.06 0)" style="font-size:10.6px;letter-spacing:0px;fill:#000">(100)</text>
<text x="578.37" y="376.60" transform="translate(578.37 0) scale(0.9200 1) translate(-578.37 0)" style="font-size:10.6px;letter-spacing:0px;fill:#000">101,877</text>
<text x="635.16" y="376.60" transform="translate(635.16 0) scale(0.9500 1) translate(-635.16 0)" style="font-size:10.6px;letter-spacing:0px;fill:#000">(100)</text>
<text x="17.60" y="392.60" transform="translate(17.60 0) scale(0.9304 1) translate(-17.60 0)" style="font-size:10.0px;letter-spacing:0.3px;fill:#000">All estimates were adjusted for reporting delays and for reclassification of cases initially reported with no mode of exposure.</text>
<text x="17.60" y="404.50" transform="translate(17.60 0) scale(0.9435 1) translate(-17.60 0)" style="font-size:10.0px;letter-spacing:0.3px;fill:#000">Alabama, Arizona, Arkansas, Colorado, Florida, Idaho, Indiana, Iowa, Louisiana, Michigan, Minnesota, Mississippi, Missouri, Nebraska, Nevada, New</text>
<text x="17.60" y="415.60" transform="translate(17.60 0) scale(0.9161 1) translate(-17.60 0)" style="font-size:10.0px;letter-spacing:0.3px;fill:#000">Jersey,  New Mexico, North Carolina, North Dakota, Ohio, Oklahoma, South Carolina, South Dakota, Tennessee, Utah, Virginia, West Virginia, Wisconsin,</text>
<text x="17.37" y="426.70" transform="translate(17.37 0) scale(0.9258 1) translate(-17.37 0)" style="font-size:10.0px;letter-spacing:0.3px;fill:#000">and Wyoming.</text>
<text x="17.60" y="437.90" transform="translate(17.60 0) scale(0.9394 1) translate(-17.60 0)" style="font-size:10.0px;letter-spacing:0.3px;fill:#000">AIDS was diagnosed within the same calendar month of HIV diagnosis.</text>
<text x="16.90" y="449.10" transform="translate(16.90 0) scale(0.9335 1) translate(-16.90 0)" style="font-size:10.0px;letter-spacing:0.3px;fill:#000">Persons of Hispanic origin might be of any race.</text>
<text x="16.90" y="460.30" transform="translate(16.90 0) scale(0.9380 1) translate(-16.90 0)" style="font-size:10.0px;letter-spacing:0.3px;fill:#000">Because of rounding, the percentages in each column might not total 100%.</text>
<text x="16.90" y="471.40" transform="translate(16.90 0) scale(0.9385 1) translate(-16.90 0)" style="font-size:10.0px;letter-spacing:0.3px;fill:#000">Includes three persons whose sex is unknown.</text>
<text x="9.59" y="435.75" transform="translate(9.59 0) scale(1.0133 1) translate(-9.59 0)" style="font-size:8.5px;letter-spacing:0px;fill:#000">§</text>
</svg>
</body></html>
